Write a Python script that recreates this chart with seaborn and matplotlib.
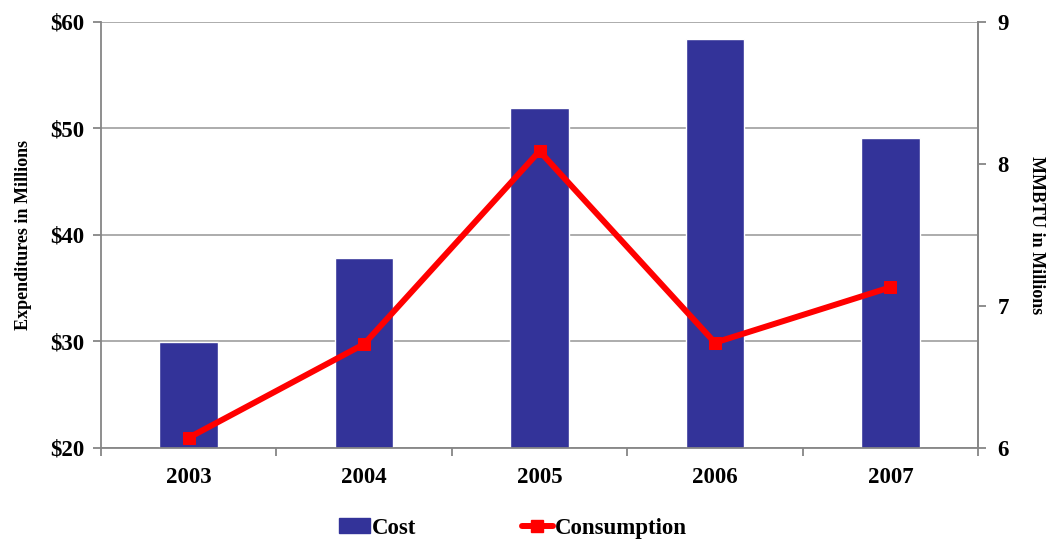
import numpy as np
import pandas as pd
import matplotlib
matplotlib.use("Agg")
import matplotlib.pyplot as plt
from matplotlib.ticker import FixedLocator, FuncFormatter
from matplotlib.patches import Patch
from matplotlib.lines import Line2D
import seaborn as sns

years = ["2003", "2004", "2005", "2006", "2007"]
cost = [29.9, 37.8, 51.9, 58.4, 49.1]          # $ millions
consumption = [6.07, 6.73, 8.09, 6.74, 7.13]   # MMBTU millions

sns.set_theme(style="white")
plt.rcParams["font.family"] = ["Liberation Serif", "DejaVu Serif"]
plt.rcParams["font.weight"] = "bold"
plt.rcParams["text.color"] = "black"
plt.rcParams["xtick.color"] = "black"
plt.rcParams["ytick.color"] = "black"
plt.rcParams["axes.labelcolor"] = "black"

BAR = "#333399"
LINE = "#FF0000"
GRID = "#A6A6A6"
SPINE = "#868686"
TICK_FS = 16.5
LABEL_FS = 13

fig = plt.figure(figsize=(10.53, 5.4), dpi=100)
ax = fig.add_axes([0.0959, 0.171, 0.8329, 0.7883])

df = pd.DataFrame({"Year": years, "Cost": cost, "Consumption": consumption})
sns.barplot(data=df, x="Year", y="Cost", color=BAR, width=0.333,
            saturation=1, ax=ax, zorder=2)
ax.set_ylim(20, 60)
ax.set_xlim(-0.5, len(years) - 0.5)
ax.yaxis.set_major_locator(FixedLocator([20, 30, 40, 50, 60]))
ax.yaxis.set_major_formatter(FuncFormatter(lambda v, p: f"${v:.0f}"))
ax.grid(axis="y", color=GRID, linewidth=1.3, zorder=0)
ax.set_axisbelow(True)
ax.set_xlabel("")
ax.set_ylabel("Expenditures in Millions", fontsize=LABEL_FS, fontweight="bold",
              labelpad=13)

ax.spines["top"].set_visible(False)
for side in ["left", "bottom", "right"]:
    ax.spines[side].set_color(SPINE)
    ax.spines[side].set_linewidth(1.3)

ax.tick_params(axis="y", which="major", left=True, length=6, width=1.3,
               color=SPINE, labelcolor="black", labelsize=TICK_FS, pad=6)
ax.tick_params(axis="x", which="major", bottom=False, length=0,
               labelcolor="black", labelsize=TICK_FS, pad=14)
ax.xaxis.set_minor_locator(FixedLocator(np.arange(-0.5, len(years), 1.0)))
ax.tick_params(axis="x", which="minor", bottom=True, length=6, width=1.3, color=SPINE)
for lbl in ax.get_xticklabels() + ax.get_yticklabels():
    lbl.set_fontweight("bold")

ax2 = ax.twinx()
sns.lineplot(x=np.arange(len(years)), y=consumption, ax=ax2, color=LINE,
             linewidth=4.3, marker="s", markersize=8, markeredgecolor=LINE,
             zorder=3)
ax2.set_ylim(6, 9)
ax2.yaxis.set_major_locator(FixedLocator([6, 7, 8, 9]))
ax2.set_ylabel("MMBTU in Millions", fontsize=LABEL_FS, fontweight="bold",
               rotation=270, labelpad=26)
ax2.tick_params(axis="y", right=True, length=6, width=1.3, color=SPINE,
                labelcolor="black", labelsize=TICK_FS, pad=8)
for lbl in ax2.get_yticklabels():
    lbl.set_fontweight("bold")
for side in ["top", "left", "bottom"]:
    ax2.spines[side].set_visible(False)
ax2.spines["right"].set_color(SPINE)
ax2.spines["right"].set_linewidth(1.3)
ax2.grid(False)

handles = [
    Patch(facecolor=BAR, edgecolor=BAR, label="Cost"),
    Line2D([0], [0], color=LINE, linewidth=4.3, marker="s", markersize=8,
           label="Consumption"),
]
fig.legend(handles=handles, loc="center", bbox_to_anchor=(0.487, 0.022),
           ncol=2, frameon=False, prop={"size": TICK_FS, "weight": "bold"},
           handlelength=1.35, handleheight=0.6, handletextpad=0.1,
           columnspacing=4.6)

fig.savefig("out.png", dpi=100)
